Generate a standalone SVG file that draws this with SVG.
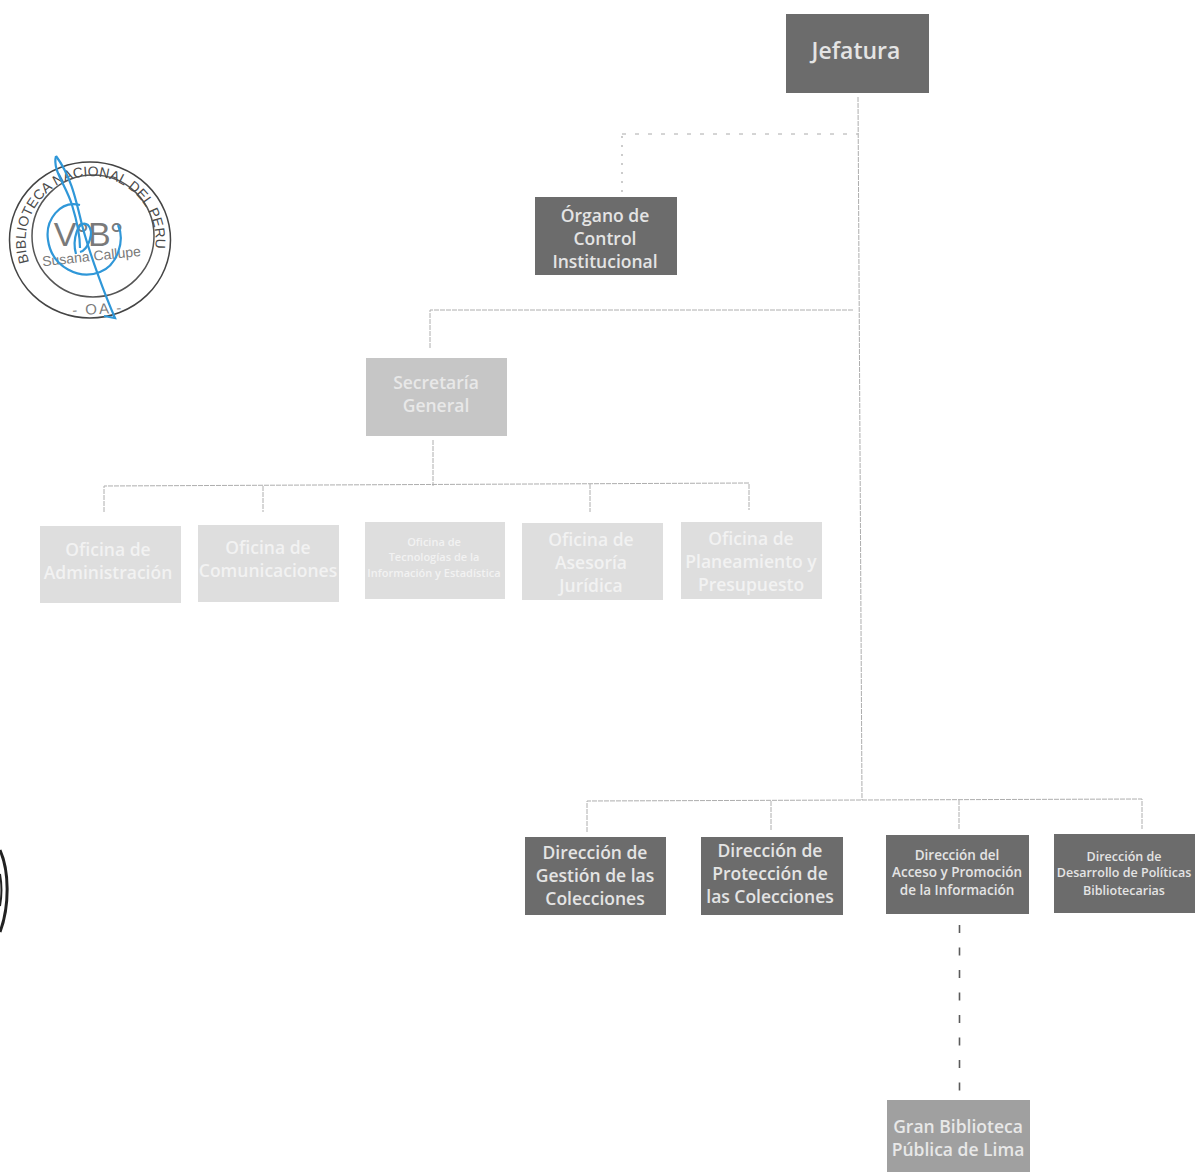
<svg xmlns="http://www.w3.org/2000/svg" width="1195" height="1172" viewBox="0 0 1195 1172">
<style>
text{font-family:"Open Sans","DejaVu Sans",sans-serif;text-anchor:middle}
.dark{fill:#6c6c6c}.mid{fill:#c6c6c6}.mid2{fill:#a0a0a0}.light{fill:#dedede}
.dt{fill:#e4e4e4;font-weight:600}.mt{fill:#e8e8e8;font-weight:600}.lt{fill:#f2f2f2;font-weight:600}
.c{fill:none;stroke:#aeaeae;stroke-width:1;stroke-dasharray:5 1}
.s{font-family:"Liberation Sans",Arial,sans-serif;fill:#7a7a7a}
.r{fill:#4a4a4a;text-anchor:start}
</style>
<defs>
<path id="arc" d="M29 262A65 65 0 1 1 155 250"/>
</defs>
<rect width="1195" height="1172" fill="#ffffff"/>
<g id="connectors">
<path class="c" d="M858 97L862 800M430 348V310H853M433 440V486M104 512V486L749 483V510M263 486V512M590 484V512M587 832V801L1142 799V829M771 801V831M959 800V829"/>
<path d="M622 192V134" fill="none" stroke="#999" stroke-dasharray="2 7"/>
<path d="M622 134H858" fill="none" stroke="#aaa" stroke-dasharray="4 9"/>
<path d="M959.500 925V1092" fill="none" stroke="#5a5a5a" stroke-width="1.600" stroke-dasharray="8 14.500"/>
</g>
<g id="jefatura"><rect class="dark" x="786" y="14" width="143" height="79"/><text class="dt" x="856" y="59" font-size="23">Jefatura</text></g>
<g id="oci"><rect class="dark" x="535" y="197" width="142" height="78"/><text class="dt" font-size="17.500"><tspan x="605" y="222">Órgano de</tspan><tspan x="605" y="245">Control</tspan><tspan x="605" y="268">Institucional</tspan></text></g>
<g id="secretaria"><rect class="mid" x="366" y="358" width="141" height="78"/><text class="mt" font-size="17.500"><tspan x="436" y="389">Secretaría</tspan><tspan x="436" y="412">General</tspan></text></g>
<g id="of-admin"><rect class="light" x="40" y="526" width="141" height="77"/><text class="lt" font-size="17.500"><tspan x="108" y="556">Oficina de</tspan><tspan x="108" y="579">Administración</tspan></text></g>
<g id="of-com"><rect class="light" x="198" y="525" width="141" height="77"/><text class="lt" font-size="17.500"><tspan x="268" y="554">Oficina de</tspan><tspan x="268" y="577">Comunicaciones</tspan></text></g>
<g id="of-tec"><rect class="light" x="365" y="522" width="140" height="77"/><text class="lt" font-size="11"><tspan x="434" y="546">Oficina de</tspan><tspan x="434" y="561">Tecnologías de la</tspan><tspan x="434" y="577">Información y Estadística</tspan></text></g>
<g id="of-ase"><rect class="light" x="522" y="523" width="141" height="77"/><text class="lt" font-size="17.500"><tspan x="591" y="546">Oficina de</tspan><tspan x="591" y="569">Asesoría</tspan><tspan x="591" y="592">Jurídica</tspan></text></g>
<g id="of-pla"><rect class="light" x="681" y="522" width="141" height="77"/><text class="lt" font-size="17.500"><tspan x="751" y="545">Oficina de</tspan><tspan x="751" y="568">Planeamiento y</tspan><tspan x="751" y="591">Presupuesto</tspan></text></g>
<g id="dir-gestion"><rect class="dark" x="525" y="837" width="141" height="78"/><text class="dt" font-size="17.500"><tspan x="595" y="859">Dirección de</tspan><tspan x="595" y="882">Gestión de las</tspan><tspan x="595" y="905">Colecciones</tspan></text></g>
<g id="dir-proteccion"><rect class="dark" x="701" y="837" width="142" height="78"/><text class="dt" font-size="17.500"><tspan x="770" y="857">Dirección de</tspan><tspan x="770" y="880">Protección de</tspan><tspan x="770" y="903">las Colecciones</tspan></text></g>
<g id="dir-acceso"><rect class="dark" x="886" y="835" width="143" height="79"/><text class="dt" font-size="13.500"><tspan x="957" y="860">Dirección del</tspan><tspan x="957" y="877">Acceso y Promoción</tspan><tspan x="957" y="895">de la Información</tspan></text></g>
<g id="dir-desarrollo"><rect class="dark" x="1054" y="834" width="141" height="79"/><text class="dt" font-size="12.500"><tspan x="1124" y="861">Dirección de</tspan><tspan x="1124" y="877">Desarrollo de Políticas</tspan><tspan x="1124" y="895">Bibliotecarias</tspan></text></g>
<g id="gran-biblioteca"><rect class="mid2" x="887" y="1100" width="143" height="72"/><text class="mt" font-size="17.500"><tspan x="958" y="1133">Gran Biblioteca</tspan><tspan x="958" y="1156">Pública de Lima</tspan></text></g>
<g id="sello" fill="none">
<ellipse cx="90" cy="240" rx="80.500" ry="78" stroke="#444" stroke-width="1.500"/>
<ellipse cx="93" cy="236" rx="61" ry="61" stroke="#555" stroke-width="1.500"/>
<text class="s r" font-size="14"><textPath href="#arc" textLength="232">BIBLIOTECA NACIONAL DEL PERU</textPath></text>
<text class="s" x="88" y="246" font-size="34" letter-spacing="-1">V°B°</text>
<text class="s" x="92" y="261" font-size="14" transform="rotate(-6 92 261)">Susana Callupe</text>
<text class="s" x="98" y="314" font-size="15" letter-spacing="2" transform="rotate(-3 98 314)">- OA -</text>
<g stroke="#2f97d8" stroke-width="2.200">
<path d="M56 156C70 175 75 195 82 225C90 255 105 295 115 318L104 316"/>
<path d="M56 156C52 170 66 185 72 205C76 218 80 232 80 248"/>
<path d="M80 205C60 200 45 220 48 240C52 268 80 280 100 272C118 265 125 240 118 225"/>
<path d="M76 254C72 240 78 218 88 225C95 232 88 250 80 252"/>
</g>
</g>
<g id="borde" fill="none" stroke="#222">
<path d="M0 850C9 870 10 905 0 932" stroke-width="3"/>
<path d="M0 874C2 885 2 895 0 906" stroke-width="2"/>
</g>
</svg>
